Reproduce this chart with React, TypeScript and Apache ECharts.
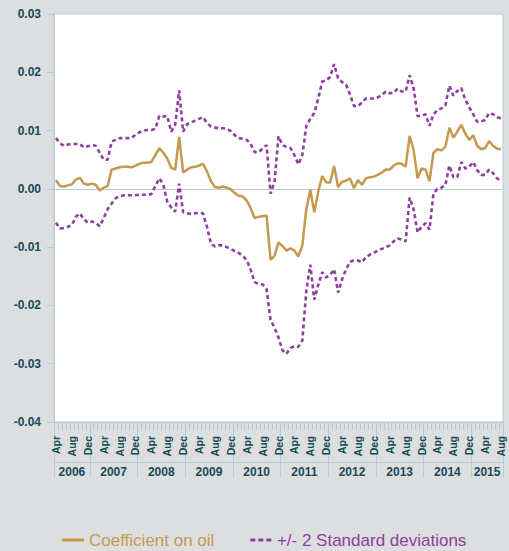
import React, { useEffect, useRef } from "react";
import * as echarts from "echarts";

// ---- Data ----
const START_YEAR = 2006;
const START_MONTH = 4; // April 2006
const MONTH_NAMES = ["Jan", "Feb", "Mar", "Apr", "May", "Jun", "Jul", "Aug", "Sep", "Oct", "Nov", "Dec"];
const SHOWN_MONTHS = ["Apr", "Aug", "Dec"];

const COEF = [
  0.0015, 0.0005, 0.0004, 0.0006, 0.0008, 0.0016, 0.0019, 0.0009, 0.0007, 0.0009,
  0.0007, -0.0003, 0.0002, 0.0005, 0.0033, 0.0035, 0.0037, 0.0038, 0.0038, 0.0037,
  0.004, 0.0043, 0.0045, 0.0045, 0.0046, 0.0058, 0.007, 0.0062, 0.0052, 0.0036,
  0.0033, 0.0089, 0.0028, 0.0033, 0.0037, 0.0038, 0.004, 0.0043, 0.003, 0.0013,
  0.0003, 0.0002, 0.0004, 0.0002, -0.0001, -0.0007, -0.0012, -0.0013, -0.002, -0.0033,
  -0.005, -0.0048, -0.0047, -0.0046, -0.0122, -0.0115, -0.0092, -0.0098, -0.0106, -0.0102,
  -0.0106, -0.0116, -0.0097, -0.0035, -0.0002, -0.004, -0.0005, 0.0022, 0.0011, 0.0011,
  0.0039, 0.0003, 0.0012, 0.0014, 0.0018, 0.0001, 0.0015, 0.0007, 0.0018, 0.002,
  0.0021, 0.0024, 0.0028, 0.0033, 0.0033, 0.004, 0.0044, 0.0043, 0.0038, 0.0091,
  0.0067, 0.0018, 0.0035, 0.0033, 0.0013, 0.0062, 0.0068, 0.0066, 0.0072, 0.0105,
  0.0088, 0.0098, 0.011, 0.0095, 0.0084, 0.0092, 0.0074, 0.0068, 0.007, 0.0082,
  0.0074, 0.0069, 0.0068,
];

const UPPER = [
  0.0087, 0.0078, 0.0074, 0.0076, 0.0077, 0.0077, 0.0077, 0.0071, 0.0073, 0.0075,
  0.0074, 0.0062, 0.005, 0.005, 0.0081, 0.0084, 0.0087, 0.0087, 0.0087, 0.0087,
  0.0093, 0.0097, 0.01, 0.0101, 0.0101, 0.0103, 0.0125, 0.0124, 0.0125, 0.0098,
  0.011, 0.0169, 0.0098, 0.0111, 0.0114, 0.0117, 0.012, 0.0123, 0.0113, 0.0107,
  0.0105, 0.0104, 0.0104, 0.0103, 0.0099, 0.0092, 0.0087, 0.0086, 0.0084, 0.0077,
  0.0063, 0.0063, 0.0069, 0.0075, -0.0008, 0.0012, 0.009, 0.0075, 0.0072, 0.007,
  0.0058, 0.0042, 0.0058, 0.0108, 0.012, 0.013, 0.0155, 0.0184, 0.0186, 0.0192,
  0.0214, 0.019, 0.0183, 0.0179, 0.0162, 0.0142, 0.0142, 0.0148, 0.0155, 0.0155,
  0.0155, 0.0157, 0.0161, 0.0167, 0.0164, 0.0165, 0.0172, 0.0167, 0.0167, 0.0195,
  0.0173, 0.0125, 0.0125, 0.0128, 0.0108, 0.0128, 0.0135, 0.0138, 0.0143, 0.0177,
  0.016, 0.0168, 0.0173, 0.0153, 0.014, 0.0128, 0.0115, 0.0116, 0.0118, 0.013,
  0.0128, 0.0123, 0.0121,
];

const LOWER = [
  -0.0058, -0.0068, -0.0067, -0.0065, -0.0062, -0.0048, -0.0042, -0.0052, -0.0058, -0.0056,
  -0.0058, -0.0064, -0.005, -0.0035, -0.0025, -0.0016, -0.0013, -0.0011, -0.0011, -0.0011,
  -0.0011, -0.001, -0.001, -0.001, -0.0009, 0.0005, 0.0018, 0.0008, -0.0022, -0.0032,
  -0.0039, 0.0009, -0.004, -0.0042, -0.0043, -0.0042, -0.0041, -0.0042, -0.0065, -0.0094,
  -0.0099, -0.0097, -0.0097, -0.01, -0.0103, -0.0107, -0.011, -0.0115, -0.0122, -0.0139,
  -0.016, -0.0163, -0.0164, -0.0172, -0.0225, -0.0238, -0.0255, -0.0277, -0.0283, -0.0273,
  -0.027, -0.0271, -0.026, -0.0175, -0.013, -0.019, -0.0165, -0.0143, -0.0152, -0.0148,
  -0.0138, -0.0178, -0.0155, -0.0138, -0.0125, -0.0123, -0.0123, -0.0126, -0.0117, -0.0113,
  -0.011, -0.0106, -0.0103, -0.01, -0.0097, -0.009, -0.0085, -0.0087, -0.009, -0.0015,
  -0.0035, -0.0075, -0.0065, -0.0059, -0.007, -0.0008, 0, 0.0002, 0.0006, 0.004,
  0.002, 0.002, 0.0046, 0.0035, 0.0038, 0.0046, 0.0032, 0.0024, 0.0024, 0.0033,
  0.0027, 0.0018, 0.0014,
];

const Y_MIN = -0.04;
const Y_MAX = 0.03;
const Y_STEP = 0.01;

const COEF_NAME = "Coefficient on oil";
const SD_NAME = "+/- 2 Standard deviations";

// ---- Styles ----
const GOLD = "#c49a4e";
const PURPLE = "#8e409e";
const TEXT = "#174b57";
const AXIS = "#b7ccd2";
const BG = "#dddee0";
const FONT = "'Liberation Sans', Arial, sans-serif";

const N = COEF.length;
const categories = COEF.map((_, i) => {
  const m0 = START_MONTH - 1 + i;
  return `${START_YEAR + Math.floor(m0 / 12)}-${MONTH_NAMES[m0 % 12]}`;
});
const monthOf = (c: string) => c.split("-")[1];
const yearOf = (c: string) => c.split("-")[0];

// year boundaries (band edges) and mid points in band space
const boundaries: number[] = [0];
categories.forEach((c, i) => {
  if (i > 0 && monthOf(c) === "Jan") boundaries.push(i);
});
boundaries.push(N);
const yearMids: { v: number; y: string }[] = [];
for (let k = 0; k < boundaries.length - 1; k++) {
  yearMids.push({
    v: (boundaries[k] + boundaries[k + 1]) / 2,
    y: yearOf(categories[boundaries[k]]),
  });
}

export default function App() {
  const ref = useRef<HTMLDivElement>(null);
  useEffect(() => {
    if (!ref.current) return;
    const chart = echarts.init(ref.current, null, { renderer: "svg" });
    const option: any = {
      animation: false,
      backgroundColor: BG,
      textStyle: { fontFamily: FONT },
      grid: {
        left: 54,
        top: 14,
        width: 449,
        height: 408,
        show: true,
        backgroundColor: "#ffffff",
        borderColor: AXIS,
        borderWidth: 1,
      },
      legend: {
        left: 57,
        top: 525,
        padding: 5,
        itemWidth: 22,
        itemHeight: 3,
        itemGap: 36,
        textStyle: { fontSize: 17, lineHeight: 20, fontFamily: FONT },
        data: [
          { name: COEF_NAME, icon: "path://M0,0h22v3h-22z", textStyle: { color: GOLD } },
          {
            name: SD_NAME,
            icon: "path://M0,0h5v3h-5zM8,0h5v3h-5zM16,0h5v3h-5z",
            textStyle: { color: PURPLE },
          },
        ],
      },
      xAxis: [
        {
          type: "category",
          data: categories,
          boundaryGap: true,
          position: "bottom",
          axisLine: { onZero: false, lineStyle: { color: AXIS } },
          axisTick: { show: true, interval: 0, length: 8, lineStyle: { color: AXIS } },
          axisLabel: {
            rotate: 90,
            interval: (_i: number, v: string) => SHOWN_MONTHS.includes(monthOf(v)),
            formatter: (v: string) => monthOf(v),
            color: TEXT,
            fontWeight: "bold",
            fontSize: 10.5,
            margin: 14,
            fontFamily: FONT,
          },
          splitLine: { show: false },
        },
        {
          type: "value",
          min: 0,
          max: N,
          position: "bottom",
          axisLine: { show: false, onZero: false },
          axisTick: { show: true, customValues: boundaries, length: 56, lineStyle: { color: AXIS } },
          axisLabel: { show: false },
          splitLine: { show: false },
        },
        {
          type: "value",
          min: 0,
          max: N,
          position: "bottom",
          offset: 40,
          axisLine: { show: true, onZero: false, lineStyle: { color: AXIS } },
          axisTick: { show: false },
          axisLabel: {
            customValues: yearMids.map((d) => d.v),
            formatter: (v: number) => {
              const f = yearMids.find((d) => Math.abs(d.v - v) < 1e-6);
              return f ? f.y : "";
            },
            color: TEXT,
            fontWeight: "bold",
            fontSize: 12,
            margin: 4,
            fontFamily: FONT,
          },
          splitLine: { show: false },
        },
      ],
      yAxis: {
        type: "value",
        min: Y_MIN,
        max: Y_MAX,
        interval: Y_STEP,
        axisLine: { show: true, lineStyle: { color: AXIS } },
        axisTick: { show: true, length: 7, lineStyle: { color: AXIS } },
        splitLine: { show: false },
        axisLabel: {
          formatter: (v: number) => (Math.round(v * 100) / 100).toFixed(2),
          color: TEXT,
          fontWeight: "bold",
          fontSize: 12,
          margin: 13,
          fontFamily: FONT,
        },
      },
      series: [
        {
          type: "line",
          name: SD_NAME,
          data: UPPER,
          xAxisIndex: 0,
          symbol: "none",
          lineStyle: { color: PURPLE, width: 2.6, type: [4, 3] },
          itemStyle: { color: PURPLE },
          z: 3,
          markLine: {
            silent: true,
            symbol: "none",
            label: { show: false },
            lineStyle: { color: AXIS, type: "solid", width: 1 },
            data: [{ yAxis: 0 }],
            z: 1,
          },
        },
        {
          type: "line",
          name: SD_NAME,
          data: LOWER,
          xAxisIndex: 0,
          symbol: "none",
          lineStyle: { color: PURPLE, width: 2.6, type: [4, 3] },
          itemStyle: { color: PURPLE },
          z: 3,
        },
        {
          type: "line",
          name: COEF_NAME,
          data: COEF,
          xAxisIndex: 0,
          symbol: "none",
          lineStyle: { color: GOLD, width: 2.5 },
          itemStyle: { color: GOLD },
          z: 4,
        },
      ],
    };
    chart.setOption(option);
    return () => chart.dispose();
  }, []);
  return (
    <div
      ref={ref}
      style={{ position: "absolute", left: 0, top: 0, width: 509, height: 551, background: BG }}
    />
  );
}
